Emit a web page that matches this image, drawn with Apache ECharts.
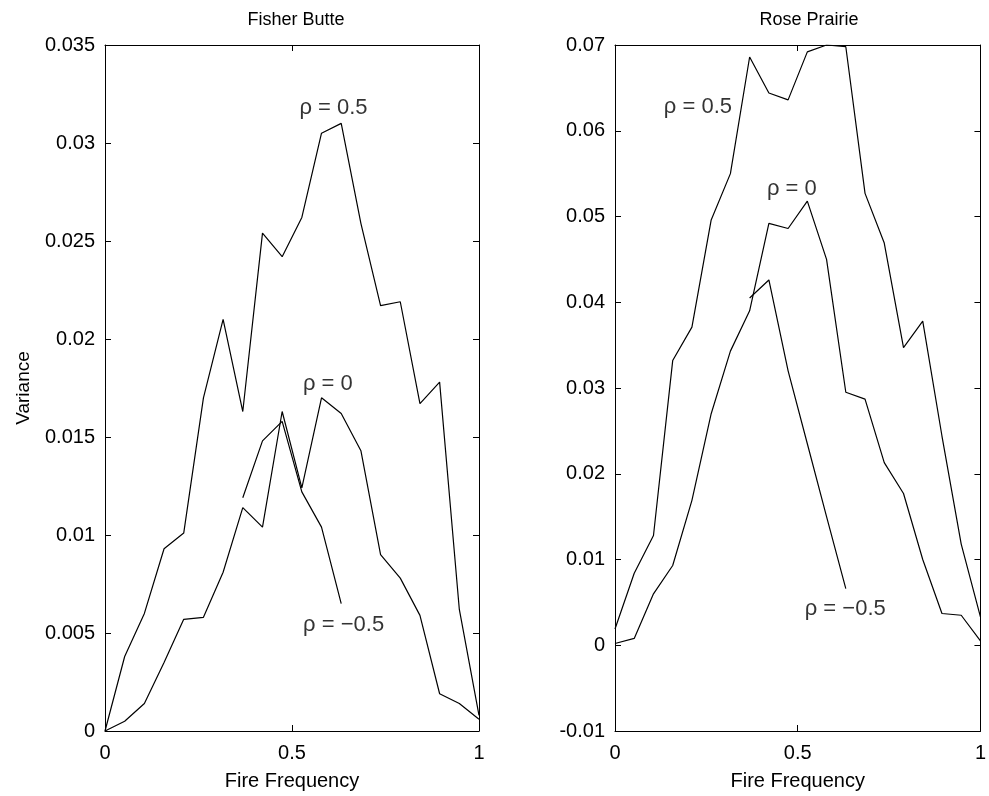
<!DOCTYPE html>
<html>
<head>
<meta charset="utf-8">
<script src="https://cdn.jsdelivr.net/npm/echarts@6/dist/echarts.min.js"></script>
<style>
html,body{margin:0;padding:0;background:#fff;}
#chart{width:989px;height:796px;}
</style>
</head>
<body>
<div id="chart"></div>
<script>
// Fire frequency sample points (x values)
var freq = [0, 0.0526, 0.1053, 0.1579, 0.2105, 0.2632, 0.3158, 0.3684, 0.4211, 0.4737,
            0.5263, 0.5789, 0.6316, 0.6842, 0.7368, 0.7895, 0.8421, 0.8947, 0.9474, 1];

// Fisher Butte variance
var fisherRho05 = [0, 0.0038, 0.0060, 0.0093, 0.0101, 0.0170, 0.0210, 0.0163, 0.0254, 0.0242,
                   0.0262, 0.0305, 0.0310, 0.0259, 0.0217, 0.0219, 0.0167, 0.0178, 0.0062, 0.0008];
var fisherRho0  = [0, 0.0005, 0.0014, 0.0035, 0.0057, 0.0058, 0.0081, 0.0114, 0.0104, 0.0163,
                   0.0124, 0.0170, 0.0162, 0.0143, 0.0090, 0.0078, 0.0059, 0.0019, 0.0014, 0.0006];
var fisherRhoM05 = [null, null, null, null, null, null, null, 0.0119, 0.0148, 0.0158,
                    0.0122, 0.0104, 0.0065, null, null, null, null, null, null, null];

// Rose Prairie variance
var roseRho05 = [0.0019, 0.0084, 0.0128, 0.0332, 0.0371, 0.0496, 0.0550, 0.0686, 0.0644, 0.0636,
                 0.0692, 0.0700, 0.0698, 0.0527, 0.0469, 0.0347, 0.0378, 0.0244, 0.0118, 0.0033];
var roseRho0  = [0.0002, 0.0008, 0.0060, 0.0093, 0.0169, 0.0270, 0.0343, 0.0390, 0.0492, 0.0486,
                 0.0518, 0.0450, 0.0295, 0.0287, 0.0213, 0.0177, 0.0100, 0.0037, 0.0035, 0.0005];
var roseRhoM05 = [null, null, null, null, null, null, null, 0.0405, 0.0426, 0.0320,
                  0.0235, 0.0150, 0.0066, null, null, null, null, null, null, null];

// Panel titles and curve labels
var panelTitles = ['Fisher Butte', 'Rose Prairie'];
var curveNames = ['\u03c1 = 0.5', '\u03c1 = 0', '\u03c1 = \u22120.5'];
var fisherLabelAt = [[0.611, 0.0318], [0.596, 0.0177], [0.638, 0.0054]];
var roseLabelAt = [[0.227, 0.0628], [0.484, 0.0532], [0.63, 0.0042]];

var FONT = "'Liberation Sans', Arial, Helvetica, sans-serif";

function pairs(vals) {
  return freq.map(function (f, i) { return [f, vals[i]]; });
}
function lineSeries(vals, idx) {
  return {
    type: 'line', xAxisIndex: idx * 2, yAxisIndex: idx * 2,
    data: pairs(vals), symbol: 'none', connectNulls: false,
    lineStyle: { color: '#000', width: 1.2 }, silent: true, animation: false, z: 3
  };
}
function labelSeries(pos, idx) {
  return {
    type: 'scatter', xAxisIndex: idx * 2, yAxisIndex: idx * 2,
    symbolSize: 1, itemStyle: { color: 'transparent' }, silent: true, animation: false,
    data: pos.map(function (p, i) { return { value: p, name: curveNames[i] }; }),
    label: {
      show: true, position: 'inside', formatter: '{b}',
      color: '#000', fontSize: 22, fontFamily: FONT
    }, z: 5
  };
}

var axisLineStyle = { show: true, onZero: false, lineStyle: { color: '#000', width: 1 } };
var tickStyle = { show: true, inside: true, length: 6, lineStyle: { color: '#000', width: 1 } };
var labelStyle = { color: '#000', fontSize: 20, fontFamily: FONT };

function xAxes(idx) {
  return [
    { type: 'value', gridIndex: idx, min: 0, max: 1, interval: 0.5, position: 'bottom',
      axisLine: axisLineStyle, axisTick: tickStyle, splitLine: { show: false },
      axisLabel: Object.assign({ margin: 12 }, labelStyle),
      name: 'Fire Frequency', nameLocation: 'middle', nameGap: 40,
      nameTextStyle: { color: '#000', fontSize: 20, fontFamily: FONT } },
    { type: 'value', gridIndex: idx, min: 0, max: 1, interval: 0.5, position: 'top',
      axisLine: axisLineStyle, axisTick: tickStyle, splitLine: { show: false },
      axisLabel: { show: false } }
  ];
}
function yAxes(idx, min, max, interval, name) {
  return [
    { type: 'value', gridIndex: idx, min: min, max: max, interval: interval, position: 'left',
      axisLine: axisLineStyle, axisTick: tickStyle, splitLine: { show: false },
      axisLabel: Object.assign({ margin: 10 }, labelStyle),
      name: name, nameLocation: 'middle', nameGap: 72, nameRotate: 90,
      nameTextStyle: { color: '#000', fontSize: 19, fontFamily: FONT } },
    { type: 'value', gridIndex: idx, min: min, max: max, interval: interval, position: 'right',
      axisLine: axisLineStyle, axisTick: tickStyle, splitLine: { show: false },
      axisLabel: { show: false } }
  ];
}

var option = {
  backgroundColor: '#fff',
  animation: false,
  title: [
    { text: panelTitles[0], left: 291, top: 6, textAlign: 'center',
      textStyle: { color: '#000', fontSize: 18, fontWeight: 'normal', fontFamily: FONT } },
    { text: panelTitles[1], left: 804, top: 6, textAlign: 'center',
      textStyle: { color: '#000', fontSize: 18, fontWeight: 'normal', fontFamily: FONT } }
  ],
  grid: [
    { left: 105, top: 45, width: 374, height: 687, containLabel: false },
    { left: 615, top: 45, width: 378, height: 686, containLabel: false }
  ],
  xAxis: xAxes(0).concat(xAxes(1)),
  yAxis: yAxes(0, 0, 0.035, 0.005, 'Variance').concat(yAxes(1, -0.01, 0.07, 0.01, '')),
  series: [
    lineSeries(fisherRho05, 0), lineSeries(fisherRho0, 0), lineSeries(fisherRhoM05, 0),
    lineSeries(roseRho05, 1), lineSeries(roseRho0, 1), lineSeries(roseRhoM05, 1),
    labelSeries(fisherLabelAt, 0), labelSeries(roseLabelAt, 1)
  ]
};

var chart = echarts.init(document.getElementById('chart'), null, { renderer: 'canvas' });
chart.setOption(option);
</script>
</body>
</html>
